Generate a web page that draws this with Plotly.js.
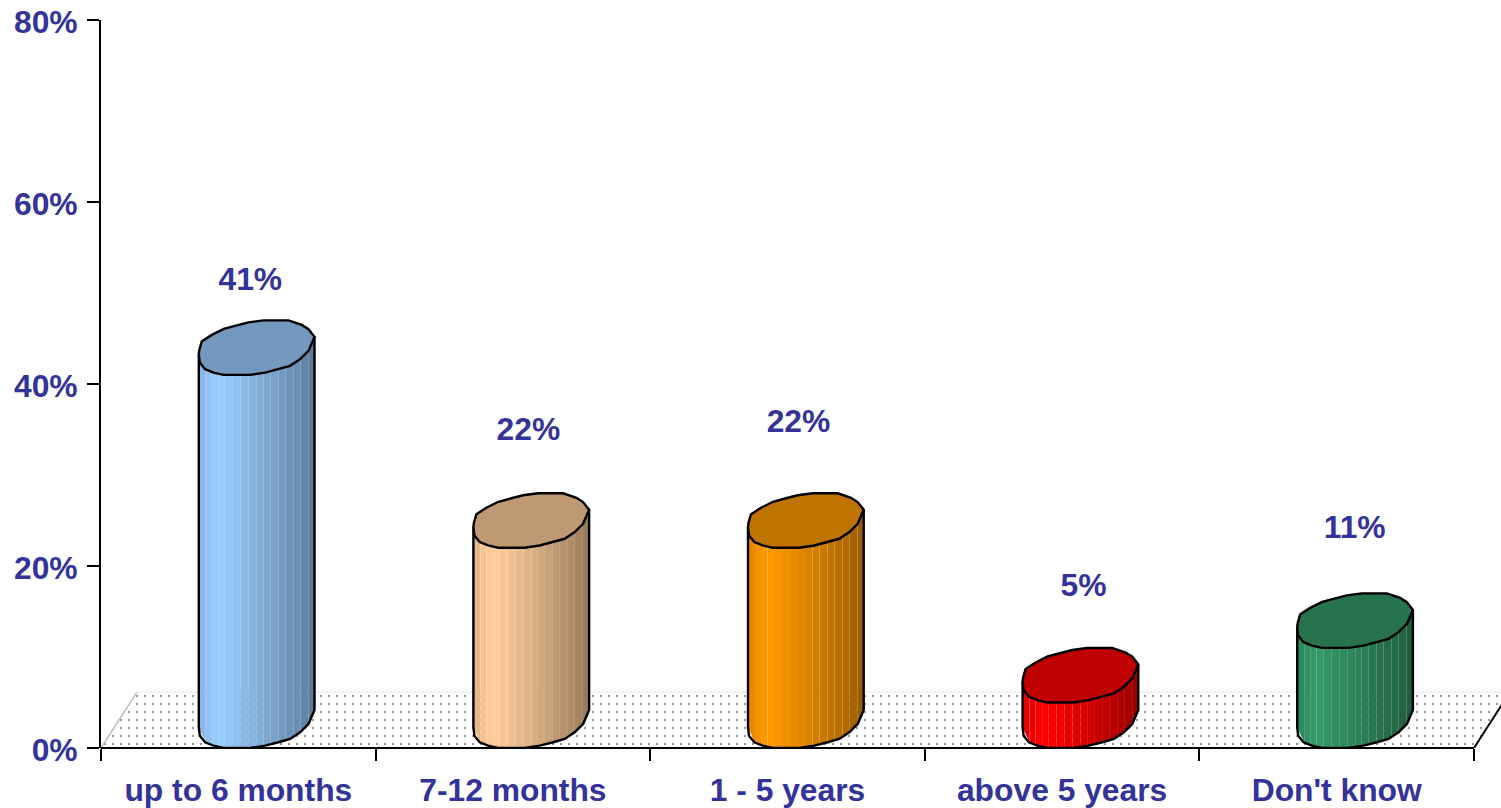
<!DOCTYPE html>
<html>
<head>
<meta charset="utf-8">
<script src="https://cdn.plot.ly/plotly-3.0.1.min.js"></script>
<style>html,body{margin:0;padding:0;background:#fff;overflow:hidden}</style>
</head>
<body>
<div id="chart" style="width:1501px;height:808px"></div>
<script>
// --- chart data ---
const categories = ["up to 6 months", "7-12 months", "1 - 5 years", "above 5 years", "Don't know"];
const values = [41, 22, 22, 5, 11];
const valueTicks = [0, 20, 40, 60, 80];
const sideColors = [[153,204,255],[255,204,153],[255,153,0],[255,0,0],[51,153,102]];

// --- label placement (dragged by hand in the original) ---
const labelLift = [10.2, 12.75, 13.6, 12.6, 12.9];   // in % units above the bar value
const labelShiftPx = [12, 15.5, 11, 21.5, 18];

// --- 3D look ---
const PX_X = 274.6, PX_Y = 9.1;          // pixels per axis unit
const depthY = 2.97, barShiftPx = 18.5;  // bar base centre above and right of the axis
const floorDepthX = 0.131, floorDepthY = 6.15;
const axisRight = 5 + 27 / PX_X;
const capX = [-58,-57,-51.7,-43.3,-33.3,-6.7,8.3,21.7,33.3,43.3,51.7,57.7,51.7,45,40,31.7,6.7,-8.3,-20,-33,-45,-55,-57.5];
const capY = [6.3,14.7,21.3,24.7,27,27,24.7,21.3,18,11.3,3,-11,-18.7,-23,-24.5,-27.5,-27.5,-25.5,-22.5,-19,-13,-6.5,2];
const frontArcLast = 11; // capX/capY index where the front arc ends
const stripEdges = [-58,-51,-45,-38.5,-32,-24,-16,-8,0,6.5,13.5,21.5,28.5,36.5,43.5,51.5,57.7];
const stripShade = [0.90,0.95,0.99,1.0,0.97,0.94,0.91,0.88,0.85,0.82,0.79,0.75,0.72,0.69,0.65,0.60];
const topShade = 0.75;
const ink = "#333399";

function rgb(c, k) { return "rgb(" + c.map(v => Math.round(v * k)).join(",") + ")"; }
function arcAt(px) {
  for (let i = 0; i < frontArcLast; i++) {
    if (px >= capX[i] && px <= capX[i + 1]) {
      const t = (px - capX[i]) / (capX[i + 1] - capX[i]);
      return capY[i] + t * (capY[i + 1] - capY[i]);
    }
  }
  return px < capX[0] ? capY[0] : capY[frontArcLast];
}

const traces = [];
const base = {type: "scatter", mode: "lines", showlegend: false, hoverinfo: "skip", cliponaxis: false};

// dotted floor
traces.push(Object.assign({}, base, {
  x: [0, floorDepthX, 5 + floorDepthX, 5, 0], y: [0, floorDepthY, floorDepthY, 0, 0],
  fill: "toself", fillcolor: "#fff", line: {width: 0},
  fillpattern: {shape: ".", size: 8, solidity: 0.04, fgcolor: "#666", bgcolor: "#fff", fgopacity: 1}
}));
traces.push(Object.assign({}, base, {x: [0, floorDepthX], y: [0, floorDepthY], line: {color: "#bdbdbd", width: 1.5}}));
traces.push(Object.assign({}, base, {x: [floorDepthX, 5 + floorDepthX], y: [floorDepthY, floorDepthY], line: {color: "#e8e8e8", width: 1}}));
traces.push(Object.assign({}, base, {x: [5, 5 + floorDepthX], y: [0, floorDepthY], line: {color: "#000", width: 2}}));

values.forEach((v, i) => {
  const cx = i + 0.5 + barShiftPx / PX_X;
  const X = px => cx + px / PX_X;
  const topC = depthY + v;
  // side strips
  for (let s = 0; s < stripShade.length; s++) {
    const a = stripEdges[s], b = stripEdges[s + 1];
    traces.push(Object.assign({}, base, {
      x: [X(a), X(b), X(b), X(a), X(a)],
      y: [topC - arcAt(a) / PX_Y, topC - arcAt(b) / PX_Y, depthY - arcAt(b) / PX_Y, depthY - arcAt(a) / PX_Y, topC - arcAt(a) / PX_Y],
      fill: "toself", fillcolor: rgb(sideColors[i], stripShade[s]), line: {width: 0}
    }));
  }
  // side outline
  const ox = [X(capX[0])], oy = [topC - capY[0] / PX_Y];
  for (let k = 0; k <= frontArcLast; k++) { ox.push(X(capX[k])); oy.push(depthY - capY[k] / PX_Y); }
  ox.push(X(capX[frontArcLast])); oy.push(topC - capY[frontArcLast] / PX_Y);
  traces.push(Object.assign({}, base, {x: ox, y: oy, line: {color: "#000", width: 2.4}}));
  // cap
  traces.push(Object.assign({}, base, {
    x: capX.concat(capX[0]).map(X),
    y: capY.concat(capY[0]).map(p => topC - p / PX_Y),
    fill: "toself", fillcolor: rgb(sideColors[i], topShade), line: {color: "#000", width: 2.4}
  }));
});

// value labels
traces.push(Object.assign({}, base, {
  mode: "text",
  x: values.map((v, i) => i + 0.5 + labelShiftPx[i] / PX_X),
  y: values.map((v, i) => v + labelLift[i]),
  text: values.map(v => v + "%"),
  textposition: "middle center",
  textfont: {family: "Liberation Sans", size: 31.8, color: ink, weight: 700}
}));

const tickFont = {family: "Liberation Sans", size: 31.8, color: ink, weight: 700};
const layout = {
  width: 1501, height: 808, autosize: false,
  margin: {l: 101, r: 0, t: 20, b: 60, pad: 0},
  paper_bgcolor: "#fff", plot_bgcolor: "rgba(0,0,0,0)",
  showlegend: false,
  font: tickFont,
  xaxis: {
    type: "linear", range: [0, axisRight], fixedrange: true, showgrid: false, zeroline: false,
    showline: false,
    tickmode: "array", tickvals: categories.map((c, i) => i + 0.5), ticktext: categories,
    ticks: "", tickfont: tickFont,
    ticklabelstandoff: 20,
    minor: {tickmode: "array", tickvals: [0, 1, 2, 3, 4, 5], ticks: "outside", ticklen: 12, tickwidth: 2, tickcolor: "#000", showgrid: false}
  },
  yaxis: {
    range: [0, 80], fixedrange: true, showgrid: false, zeroline: false,
    showline: true, linecolor: "#000", linewidth: 2,
    tickmode: "array", tickvals: valueTicks, ticktext: valueTicks.map(t => t + "%"),
    ticks: "outside", ticklen: 12, tickwidth: 2, tickcolor: "#000",
    tickfont: tickFont, ticklabelstandoff: 3, ticklabelshift: 2
  },
  shapes: [{type: "line", xref: "x", yref: "paper", x0: 0, x1: 5, y0: 0, y1: 0, layer: "above", line: {color: "#000", width: 2}}]
};
Plotly.newPlot("chart", traces, layout, {displayModeBar: false, responsive: false});
</script>
</body>
</html>
